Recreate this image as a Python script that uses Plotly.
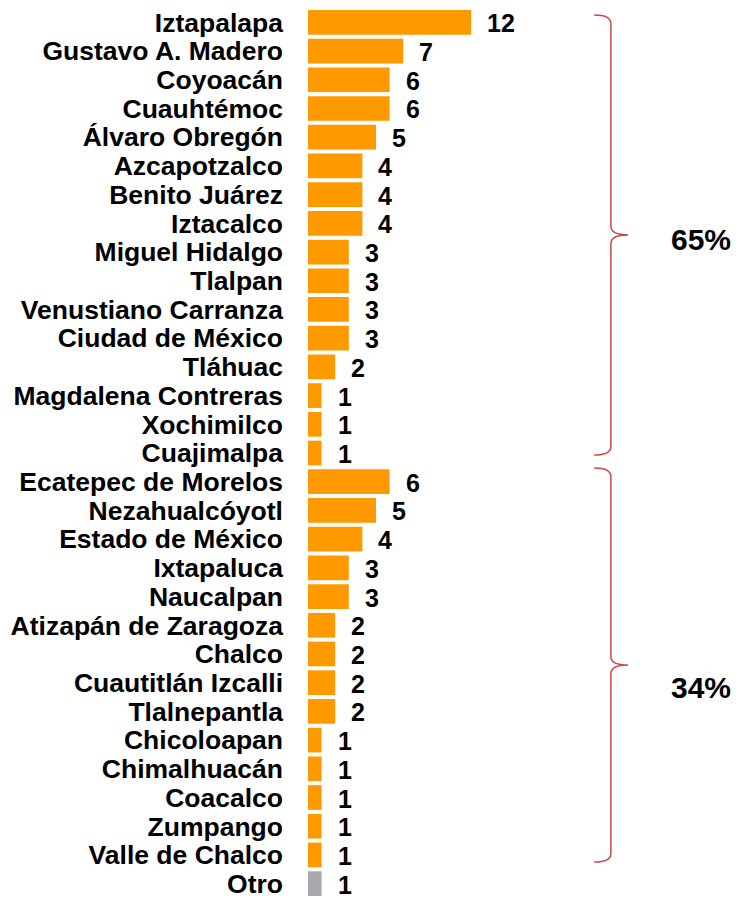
import plotly.graph_objects as go

categories = ["Iztapalapa", "Gustavo A. Madero", "Coyoacán", "Cuauhtémoc", "Álvaro Obregón",
              "Azcapotzalco", "Benito Juárez", "Iztacalco", "Miguel Hidalgo", "Tlalpan",
              "Venustiano Carranza", "Ciudad de México", "Tláhuac", "Magdalena Contreras",
              "Xochimilco", "Cuajimalpa", "Ecatepec de Morelos", "Nezahualcóyotl",
              "Estado de México", "Ixtapaluca", "Naucalpan", "Atizapán de Zaragoza", "Chalco",
              "Cuautitlán Izcalli", "Tlalnepantla", "Chicoloapan", "Chimalhuacán", "Coacalco",
              "Zumpango", "Valle de Chalco", "Otro"]
values = [12, 7, 6, 6, 5, 4, 4, 4, 3, 3, 3, 3, 2, 1, 1, 1, 6, 5, 4, 3, 3, 2, 2, 2, 2, 1, 1, 1, 1, 1, 1]
groups = ["CDMX"] * 16 + ["EDOMEX"] * 14 + ["Otro"]
group_labels = ["65%", "34%"]
group_spans = [(0, 15), (16, 29)]

ORANGE = "#FF9900"
GRAY = "#A8A8AE"
BRACE = "#C8484A"
FONT = "Liberation Sans, Arial, sans-serif"

# style: brace padding (top, bottom) and label offset per group
brace_pads = [(0.26, 0.07), (0.48, 0.25)]
label_offsets = [0.15, 0.8]

idx = list(range(len(categories)))
colors = [GRAY if g == "Otro" else ORANGE for g in groups]

fig = go.Figure()
fig.add_trace(go.Bar(
    x=values, y=idx, orientation="h",
    marker=dict(color=colors, line=dict(width=0)),
    width=0.86, hoverinfo="skip",
))

for i, v in zip(idx, values):
    fig.add_annotation(x=v, y=i, xref="x", yref="y", text=f"<b>{v}</b>",
                       showarrow=False, xanchor="left", yanchor="middle",
                       xshift=14, yshift=-1,
                       font=dict(family=FONT, size=25, color="#000000"))

# curly braces
x0, x1, x2 = 0.661, 0.6995, 0.739
for (a, b), lab, (pt, pb), lo in zip(group_spans, group_labels, brace_pads, label_offsets):
    top = a - pt
    bot = b + pb
    mid = (top + bot) / 2
    d = 0.3
    path = (f"M {x0},{top} Q {x1},{top} {x1},{top + d} "
            f"L {x1},{mid - d} Q {x1},{mid} {x2},{mid} "
            f"Q {x1},{mid} {x1},{mid + d} "
            f"L {x1},{bot - d} Q {x1},{bot} {x0},{bot}")
    fig.add_shape(type="path", path=path, xref="paper", yref="y",
                  line=dict(color=BRACE, width=1.5))
    fig.add_annotation(x=0.834, y=mid + lo, xref="paper", yref="y", text=f"<b>{lab}</b>",
                       showarrow=False, xanchor="left", yanchor="middle",
                       font=dict(family=FONT, size=30, color="#000000"))

fig.update_layout(
    width=733, height=890,
    margin=dict(l=300, r=0, t=0, b=0, autoexpand=False),
    paper_bgcolor="white", plot_bgcolor="white",
    showlegend=False, bargap=0.14,
)
fig.update_xaxes(range=[0, 31.84], visible=False, fixedrange=True, automargin=False)
fig.update_yaxes(range=[30.5, -0.5], tickmode="array", tickvals=idx, ticktext=categories,
                 showgrid=False, zeroline=False, showline=False, ticks="",
                 ticklabelstandoff=24, automargin=False, ticklabeloverflow="allow",
                 tickfont=dict(family=FONT, size=26.5, color="#000000", weight="bold"))

fig.write_html("out.html")
